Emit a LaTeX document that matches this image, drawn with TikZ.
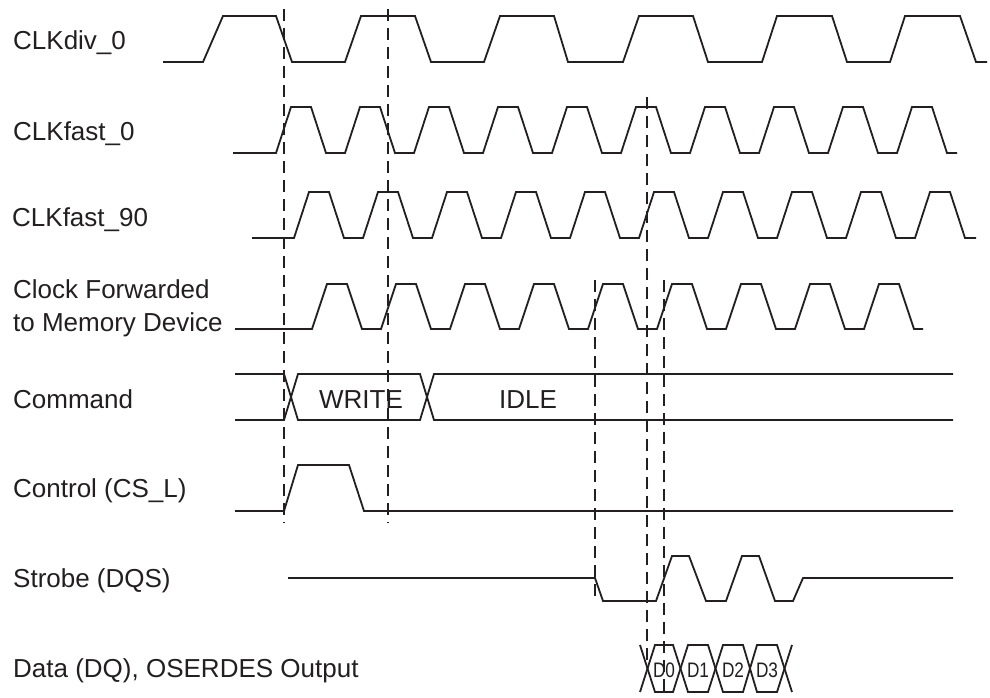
\documentclass[tikz,border=0pt]{standalone}
\usepackage{fontspec}
\setmainfont{Liberation Sans}
\definecolor{ink}{RGB}{35,31,32}
\begin{document}
\begin{tikzpicture}[x=1pt,y=-1pt,
  wave/.style={draw=ink,line width=1.8pt,line join=miter},
  guide/.style={draw=ink,line width=1.1pt,dash pattern=on 12pt off 7pt},
  lab/.style={anchor=base west,inner sep=0pt,text=ink,font=\fontsize{26}{26}\selectfont},
  bustext/.style={anchor=base,inner sep=0pt,text=ink,font=\fontsize{26}{26}\selectfont},
  dtext/.style={anchor=base,inner sep=0pt,text=ink,font=\fontsize{21}{21}\selectfont}]
\useasboundingbox (0,0) rectangle (990,698);
\fill[white] (0,0) rectangle (990,698);

% labels
\node[lab] (lclkdiv) at (13,50) {CLKdiv\_0};
\node[lab] (lfast0) at (13,141) {CLKfast\_0};
\node[lab] (lfast90) at (12,226) {CLKfast\_90};
\node[lab] (lfwd1) at (13,298) {Clock Forwarded};
\node[lab] (lfwd2) at (13,331) {to Memory Device};
\node[lab] (lcmd) at (13,408) {Command};
\node[lab] (lctl) at (13,497) {Control (CS\_L)};
\node[lab] (ldqs) at (13,587) {Strobe (DQS)};
\node[lab] (ldq) at (13,677) {Data (DQ), OSERDES Output};

% dashed guide lines
\draw[guide] (284,9) -- (284,523);
\draw[guide] (388,9) -- (388,523);
\draw[guide] (595,280) -- (595,598);
\draw[guide] (647,97) -- (647,668);
\draw[guide] (664,280) -- (664,698);

% CLKdiv_0
\draw[wave] (163,62) -- (203,62) -- (223,16) -- (276,16) -- (292,62) -- (345,62) -- (361,16) -- (415,16) -- (431,62) -- (484,62) -- (500,16) -- (554,16) -- (568,62) -- (623,62) -- (639,16) -- (693,16) -- (708,62) -- (762,62) -- (777,16) -- (832,16) -- (847,62) -- (890,62) -- (905,16) -- (960,16) -- (976,62) -- (987,62);

% CLKfast_0
\draw[wave] (233,153) \foreach \k in {0,...,9} { -- ({276+69*\k},153) -- ({291+69*\k},107) -- ({311+69*\k},107) -- ({326+69*\k},153) } -- (957,153);

% CLKfast_90
\draw[wave] (252,238) \foreach \k in {0,...,9} { -- ({294+69*\k},238) -- ({309+69*\k},192) -- ({329+69*\k},192) -- ({344+69*\k},238) } -- (976,238);

% Clock forwarded
\draw[wave] (235,329) \foreach \k in {0,...,8} { -- ({312+69*\k},329) -- ({327+69*\k},284) -- ({347+69*\k},284) -- ({362+69*\k},329) } -- (923,329);

% Command bus
\draw[wave] (235,374) -- (284,374) -- (298,420) -- (420,420) -- (434,374) -- (953,374);
\draw[wave] (235,420) -- (284,420) -- (298,374) -- (420,374) -- (434,420) -- (953,420);
\node[bustext] (twrite) at (361,408) {WRITE};
\node[bustext] (tidle) at (528,408) {IDLE};

% Control
\draw[wave] (235,511) -- (284,511) -- (298,465) -- (349,465) -- (364,511) -- (953,511);

% Strobe
\draw[wave] (288,578) -- (595,578) -- (603,601) -- (656,601) -- (672,556) -- (689,556) -- (706,601) -- (726,601) -- (742,556) -- (759,556) -- (775,601) -- (793,601) -- (803,578) -- (953,578);

% Data
\draw[wave] (640,645) -- (655,692) -- (673,692) -- (688,645) -- (708,645) -- (723,692) -- (743,692) -- (757,645) -- (777,645) -- (792,692);
\draw[wave] (640,692) -- (655,645) -- (673,645) -- (688,692) -- (708,692) -- (723,645) -- (743,645) -- (757,692) -- (777,692) -- (792,645);
\node[dtext] (d0) at (664,677) {\scalebox{0.82}[1]{D0}};
\node[dtext] (d1) at (698,677) {\scalebox{0.82}[1]{D1}};
\node[dtext] (d2) at (733,677) {\scalebox{0.82}[1]{D2}};
\node[dtext] (d3) at (767,677) {\scalebox{0.82}[1]{D3}};
\end{tikzpicture}
\end{document}
